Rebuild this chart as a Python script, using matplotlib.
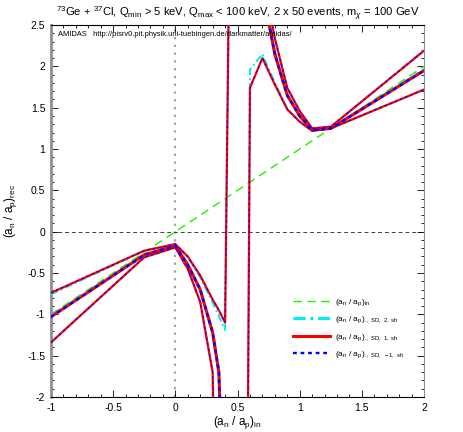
import numpy as np
import matplotlib
matplotlib.use("Agg")
from matplotlib import pyplot as plt

plt.rcParams['font.family'] = ['Liberation Sans', 'DejaVu Sans']
plt.rcParams['mathtext.fontset'] = 'custom'
plt.rcParams['mathtext.rm'] = 'Liberation Sans'
plt.rcParams['mathtext.it'] = 'Liberation Sans:italic'
plt.rcParams['mathtext.bf'] = 'Liberation Sans:bold'

# input ratio grid used for the reconstructions
x_grid = [-1, -0.25, 0, 0.1, 0.2, 0.3, 0.35, 0.4, 0.45, 0.5, 0.55,
          0.6, 0.7, 0.8, 0.9, 1.0, 1.1, 1.25, 2]

# input (true) line
x_in = [-1, 2]
y_in = [-1, 2]

nan = np.nan

# SD, 1 (red): central value and the two bounds
sd1_mid = [-1.03, -0.28, -0.17, -0.40, -0.70, -1.22, -1.70, -4.0, nan, nan, nan,
           nan, 2.93, 2.15, 1.65, 1.40, 1.23, 1.25, 1.95]
sd1_up = [-0.74, -0.23, -0.15, -0.30, -0.53, -0.82, -0.95, -1.10, 5.5, 8.0, 9.0,
          6.0, 3.1, 2.34, 1.74, 1.46, 1.25, 1.27, 2.19]
sd1_lo = [-1.34, -0.31, -0.19, -0.45, -0.85, -1.70, -6.0, -9.0, -12.0, -14.0, -10.7,
          1.74, 2.10, 1.78, 1.48, 1.33, 1.22, 1.25, 1.72]

# SD, 2 (cyan)
sd2_mid = [-1.02, -0.28, -0.17, -0.40, -0.70, -1.22, -1.70, -4.0, nan, nan, nan,
           nan, 2.93, 2.15, 1.65, 1.40, 1.23, 1.25, 1.96]
sd2_up = [-0.76, -0.23, -0.15, -0.31, -0.55, -0.86, -1.02, -1.19, 5.5, 8.0, 9.0,
          6.0, 3.1, 2.34, 1.74, 1.46, 1.25, 1.27, 2.20]
sd2_lo = [-1.34, -0.31, -0.19, -0.45, -0.85, -1.70, -6.0, -9.0, -12.0, -14.0, -10.7,
          1.96, 2.15, 1.80, 1.49, 1.33, 1.22, 1.25, 1.72]

# SD, -1 (blue)
sdm1_mid = [-1.03, -0.28, -0.17, -0.40, -0.70, -1.22, -1.70, -4.0, nan, nan, nan,
            nan, 2.93, 2.15, 1.65, 1.40, 1.23, 1.25, 1.95]
sdm1_up = [-0.74, -0.23, -0.15, -0.30, -0.53, -0.82, -0.95, -1.10, 5.5, 8.0, 9.0,
           6.0, 3.1, 2.34, 1.74, 1.46, 1.25, 1.27, 2.19]
sdm1_lo = [-1.34, -0.31, -0.19, -0.45, -0.85, -1.70, -6.0, -9.0, -12.0, -14.0, -10.7,
           1.74, 2.10, 1.78, 1.48, 1.33, 1.22, 1.25, 1.72]

title = (r"$^{73}$Ge + $^{37}$Cl, Q$_{\rm min}$ > 5 keV, Q$_{\rm max}$ < 100 keV, "
         r"2 x 50 events, m$_{\chi}$ = 100 GeV")
ratio = r"(a$_{\rm n}$ / a$_{\rm p}$)"


def main():
    fig = plt.figure(figsize=(4.63, 4.32), dpi=100)
    ax = fig.add_axes([0.110, 0.081, 0.806, 0.861])

    # reference lines through zero
    ax.axvline(0, color='#a0a0a0', linestyle=(0, (1, 2.5)), linewidth=1.6, zorder=1)
    ax.axhline(0, color='#404040', linestyle=(0, (4, 3)), linewidth=0.7, zorder=1)

    ax.plot(x_in, y_in, color='#22ee00', linestyle=(0, (6, 4)), linewidth=1.0,
            label=ratio + r"$_{\rm in}$", zorder=2)

    # (mid, up, lo, colour, thick style, thin style, thick width, thin width, tag)
    styles = [
        (sd2_mid, sd2_up, sd2_lo, '#00eeee', (0, (4, 1.5, 1, 1.5)), (0, (4, 1.5, 1, 1.5)),
         2.2, 1.4, 'SD,\\ 2,\\ sh'),
        (sd1_mid, sd1_up, sd1_lo, '#ff0000', '-', '-', 2.2, 1.6, 'SD,\\ 1,\\ sh'),
        (sdm1_mid, sdm1_up, sdm1_lo, '#0000ff', (0, (1.6, 1.6)), (0, (2.0, 3.0)),
         1.7, 0.8, 'SD,\\ -1,\\ sh'),
    ]
    for mid, up, lo, color, ls_mid, ls_bnd, lw_mid, lw_bnd, tag in styles:
        ax.plot(x_grid, mid, color=color, linestyle=ls_mid, linewidth=lw_mid,
                label=ratio + r"$_{\rm .,\ " + tag + "}$", zorder=3)
        ax.plot(x_grid, up, color=color, linestyle=ls_bnd, linewidth=lw_bnd, zorder=3)
        ax.plot(x_grid, lo, color=color, linestyle=ls_bnd, linewidth=lw_bnd, zorder=3)

    ax.set_xlim(-1, 2)
    ax.set_ylim(-2, 2.5)
    ax.set_xticks(np.arange(-1, 2.01, 0.5))
    ax.set_xticklabels(['-1', '-0.5', '0', '0.5', '1', '1.5', '2'])
    ax.set_yticks(np.arange(-2, 2.51, 0.5))
    ax.set_yticklabels(['-2', '-1.5', '-1', '-0.5', '0', '0.5', '1', '1.5', '2', '2.5'])
    ax.set_xticks(np.arange(-1, 2.01, 0.1), minor=True)
    ax.set_yticks(np.arange(-2, 2.51, 0.1), minor=True)
    ax.tick_params(which='both', direction='in', top=True, right=True, labelsize=7.5,
                   pad=4)
    ax.tick_params(which='major', length=5, width=0.6)
    ax.tick_params(which='minor', length=2.5, width=0.6)

    ax.spines['left'].set_color('#909090')
    ax.spines['left'].set_linewidth(2.0)
    ax.spines['right'].set_color('#909090')
    for side in ['top', 'bottom']:
        ax.spines[side].set_linewidth(0.8)

    ax.set_xlabel(ratio + r"$_{\rm in}$", fontsize=8.5, labelpad=1)
    ax.set_ylabel(ratio + r"$_{\rm rec}$", fontsize=8.5, labelpad=6)
    ax.set_title(title, fontsize=8.1, pad=6)

    ax.text(0.02, 0.985,
            "AMIDAS   http://pisrv0.pit.physik.uni-tuebingen.de/darkmatter/amidas/",
            transform=ax.transAxes, fontsize=5.4, va='top', ha='left')

    ax.legend(loc='upper left', bbox_to_anchor=(0.633, 0.3125),
              bbox_transform=fig.transFigure, frameon=False, borderpad=0,
              borderaxespad=0, fontsize=6, handlelength=4.4, labelspacing=0.8,
              handletextpad=0.6)

    fig.savefig("out.png", dpi=100)


if __name__ == "__main__":
    main()
